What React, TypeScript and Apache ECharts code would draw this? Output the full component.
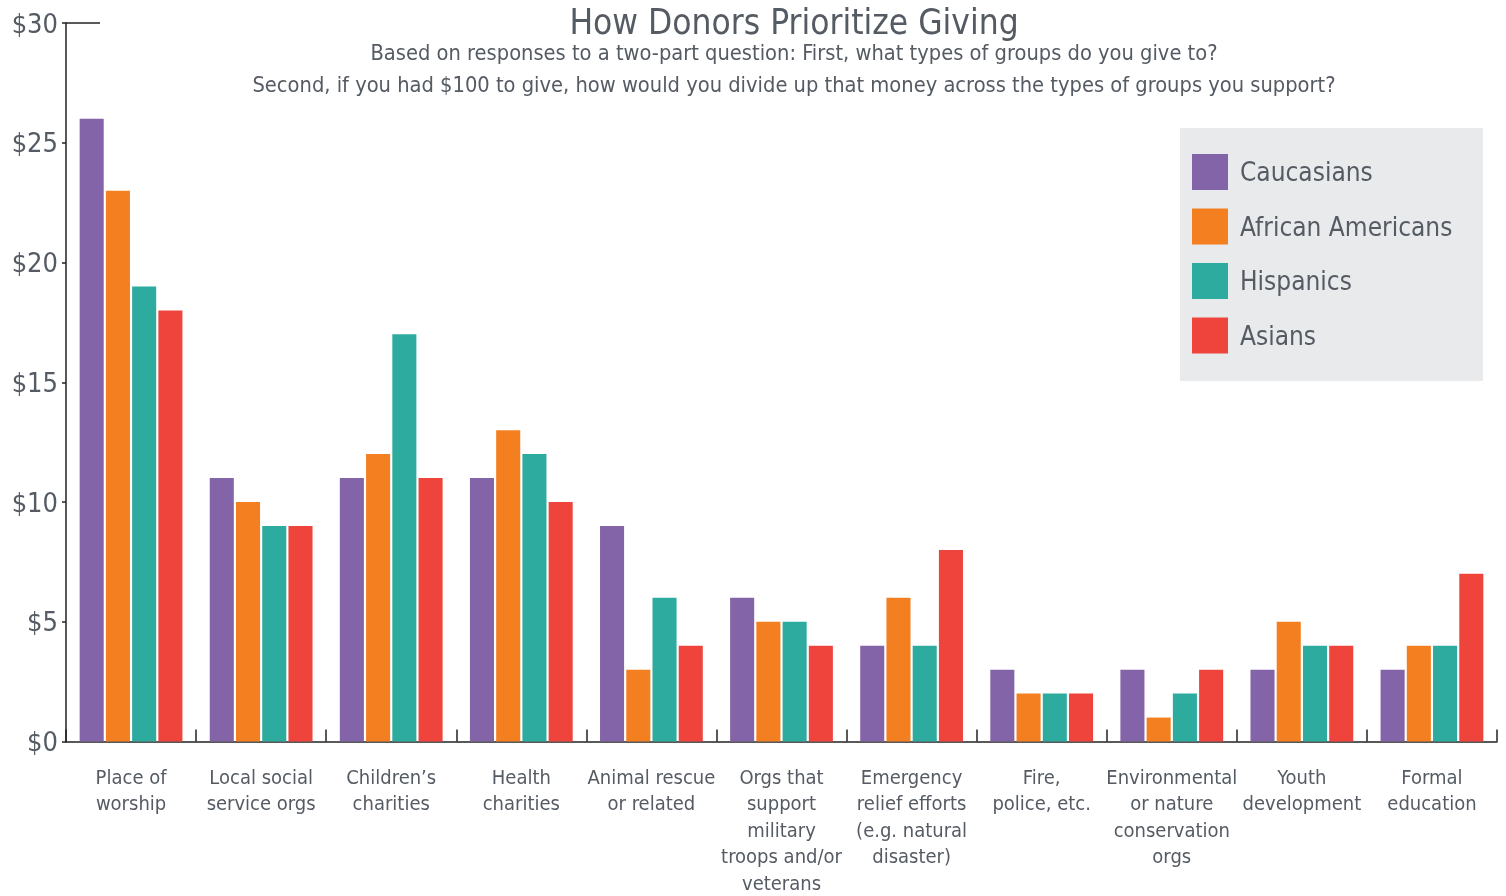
import React, { useEffect, useRef } from "react";
import * as echarts from "echarts";

const categories = [
  "Place of\nworship",
  "Local social\nservice orgs",
  "Children’s\ncharities",
  "Health\ncharities",
  "Animal rescue\nor related",
  "Orgs that\nsupport\nmilitary\ntroops and/or\nveterans",
  "Emergency\nrelief efforts\n(e.g. natural\ndisaster)",
  "Fire,\npolice, etc.",
  "Environmental\nor nature\nconservation\norgs",
  "Youth\ndevelopment",
  "Formal\neducation",
];
const seriesNames = ["Caucasians", "African Americans", "Hispanics", "Asians"];
const caucasians = [26, 11, 11, 11, 9, 6, 4, 3, 3, 3, 3];
const africanAmericans = [23, 10, 12, 13, 3, 5, 6, 2, 1, 5, 4];
const hispanics = [19, 9, 17, 12, 6, 5, 4, 2, 2, 4, 4];
const asians = [18, 9, 11, 10, 4, 4, 8, 2, 3, 4, 7];
const colors = ["#8464a8", "#f47f20", "#2eab9f", "#ee443b"];
const yTicks = [0, 5, 10, 15, 20, 25, 30];

const FONT = "'Liberation Sans Narrow', 'DejaVu Sans Condensed', 'Roboto', sans-serif";
const TEXT = "#555b63";

export default function App() {
  const ref = useRef<HTMLDivElement>(null);
  useEffect(() => {
    if (!ref.current) return;
    const chart = echarts.init(ref.current, null, { renderer: "svg" });
    const data = [caucasians, africanAmericans, hispanics, asians];
    chart.setOption({
      animation: false,
      textStyle: { fontFamily: FONT, color: TEXT },
      title: [
        {
          text: "How Donors Prioritize Giving",
          left: 789,
          textAlign: "center",
          top: -1,
          textStyle: { fontFamily: FONT, fontSize: 35, fontWeight: "normal", color: TEXT },
        },
        {
          text: "Based on responses to a two-part question: First, what types of groups do you give to?\nSecond, if you had $100 to give, how would you divide up that money across the types of groups you support?",
          left: 789,
          textAlign: "center",
          top: 31,
          textStyle: { fontFamily: FONT, fontSize: 21.7, fontWeight: "normal", color: TEXT, lineHeight: 32 },
        },
      ],
      graphic: [
        { type: "rect", left: 1180, top: 128, shape: { width: 303, height: 253 }, style: { fill: "#e9eaec" }, z: 0 },
        { type: "line", shape: { x1: 66, y1: 23, x2: 100, y2: 23 }, style: { stroke: "#222", lineWidth: 1.5 }, z: 10 },
      ],
      legend: {
        left: 1192,
        top: 154,
        padding: 0,
        orient: "vertical",
        itemWidth: 36,
        itemHeight: 36,
        itemGap: 18.5,
        icon: "rect",
        data: seriesNames,
        textStyle: { fontFamily: FONT, fontSize: 26, color: TEXT, padding: [0, 0, 0, 7] },
        z: 5,
      },
      grid: { left: 66, right: 9, top: 23, bottom: 150, containLabel: false },
      xAxis: {
        type: "category",
        data: categories,
        axisLine: { show: true, lineStyle: { color: "#222", width: 1.5 } },
        axisTick: { show: true, inside: true, length: 12, lineStyle: { color: "#222", width: 1.5 } },
        axisLabel: {
          interval: 0,
          fontFamily: FONT,
          fontSize: 20,
          color: TEXT,
          lineHeight: 26.5,
          margin: 22,
        },
      },
      yAxis: {
        type: "value",
        min: 0,
        max: 30,
        interval: 5,
        splitLine: { show: false },
        axisLine: { show: true, lineStyle: { color: "#222", width: 1.5 } },
        axisTick: { show: true, length: 4, lineStyle: { color: "#222", width: 1.5 } },
        axisLabel: {
          fontFamily: FONT,
          fontSize: 27,
          color: TEXT,
          margin: 8,
          formatter: (v: number) => (yTicks.includes(v) ? "$" + v : ""),
        },
      },
      series: seriesNames.map((name, i) => ({
        name,
        type: "bar",
        data: data[i],
        barGap: "9%",
        barCategoryGap: "21%",
        itemStyle: { color: colors[i] },
      })),
    });
    return () => chart.dispose();
  }, []);
  return <div ref={ref} style={{ position: "fixed", left: 0, top: 0, width: 1506, height: 896 }} />;
}
